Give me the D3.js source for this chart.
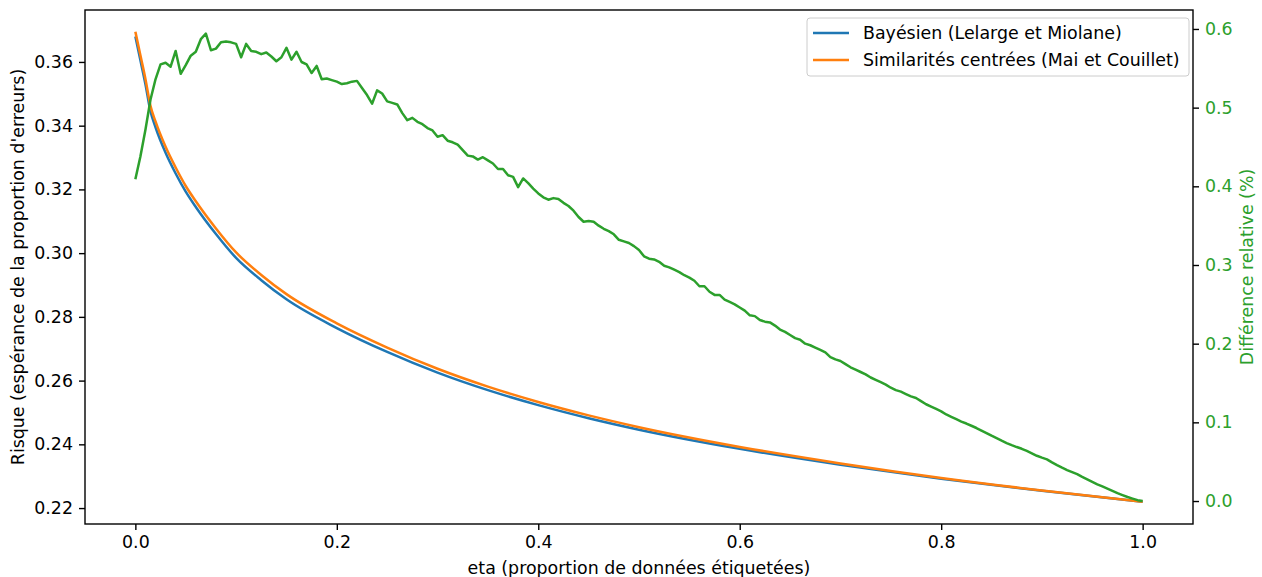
<!DOCTYPE html>
<html>
<head>
<meta charset="utf-8">
<script src="https://cdn.jsdelivr.net/npm/d3@7"></script>
<style>
  body { margin: 0; background: #fff; }
  svg text { font-family: 'DejaVu Sans', sans-serif; }
</style>
</head>
<body>
<div id="chart"></div>
<script>
// eta grid for the two risk curves
const etaRisk = [0, 0.005, 0.01, 0.015, 0.02, 0.03, 0.04, 0.05, 0.06, 0.08, 0.1, 0.125, 0.15,
  0.2, 0.25, 0.3, 0.35, 0.4, 0.45, 0.5, 0.6, 0.7, 0.8, 0.9, 1.0];

const riskBayes = [0.3680, 0.3605, 0.3530, 0.3445, 0.3395, 0.3315, 0.3250, 0.3193, 0.3145, 0.3060,
  0.2985, 0.2915, 0.2855, 0.2765, 0.2690, 0.2625, 0.2570, 0.2523, 0.2482, 0.2446, 0.2386, 0.2336,
  0.2292, 0.2254, 0.2220];

const riskCentered = [0.36950, 0.36208, 0.35467, 0.34626, 0.34132, 0.33335, 0.32686, 0.32107,
  0.31630, 0.30776, 0.30023, 0.29316, 0.28714, 0.27797, 0.27037, 0.26372, 0.25811, 0.25329,
  0.24908, 0.24538, 0.23919, 0.23402, 0.22946, 0.22552, 0.2220];

// relative difference (%), one value every 0.005 of eta
const relDiff = [
  0.409, 0.438, 0.472, 0.510, 0.536, 0.555, 0.557, 0.552, 0.572, 0.543,
  0.554, 0.566, 0.571, 0.587, 0.594, 0.573, 0.575, 0.583, 0.584, 0.583,
  0.581, 0.564, 0.581, 0.572, 0.571, 0.568, 0.570, 0.565, 0.559, 0.564,
  0.576, 0.561, 0.571, 0.558, 0.555, 0.544, 0.553, 0.536, 0.537, 0.535,
  0.533, 0.530, 0.531, 0.533, 0.534, 0.525, 0.516, 0.505, 0.522, 0.518,
  0.508, 0.506, 0.504, 0.493, 0.484, 0.487, 0.482, 0.479, 0.474, 0.471,
  0.463, 0.465, 0.458, 0.456, 0.453, 0.446, 0.439, 0.438, 0.434, 0.437,
  0.433, 0.429, 0.422, 0.422, 0.414, 0.412, 0.399, 0.410, 0.404, 0.397,
  0.391, 0.386, 0.383, 0.385, 0.384, 0.379, 0.375, 0.369, 0.361, 0.355,
  0.356, 0.355, 0.350, 0.346, 0.343, 0.339, 0.332, 0.330, 0.328, 0.324,
  0.319, 0.311, 0.308, 0.307, 0.304, 0.299, 0.297, 0.294, 0.291, 0.287,
  0.284, 0.280, 0.273, 0.273, 0.266, 0.262, 0.262, 0.256, 0.253, 0.250,
  0.246, 0.242, 0.236, 0.235, 0.230, 0.228, 0.227, 0.223, 0.218, 0.215,
  0.211, 0.207, 0.205, 0.200, 0.198, 0.195, 0.192, 0.189, 0.183, 0.180,
  0.178, 0.174, 0.170, 0.167, 0.164, 0.161, 0.157, 0.154, 0.151, 0.148,
  0.144, 0.141, 0.139, 0.136, 0.133, 0.131, 0.127, 0.123, 0.120, 0.117,
  0.114, 0.110, 0.107, 0.104, 0.101, 0.0985, 0.0957, 0.0928, 0.0896, 0.0864,
  0.0830, 0.0799, 0.0767, 0.0737, 0.0710, 0.0686, 0.0664, 0.0637, 0.0607, 0.0575,
  0.0551, 0.0530, 0.0491, 0.0456, 0.0424, 0.0394, 0.0367, 0.0341, 0.0307, 0.0275,
  0.0243, 0.0212, 0.0185, 0.0158, 0.0130, 0.0101, 0.0076, 0.0051, 0.0031, 0.0011,
  0.0
];
const etaStep = 0.005;

const xTicks = [0, 0.2, 0.4, 0.6, 0.8, 1.0];
const yLeftTicks = [0.22, 0.24, 0.26, 0.28, 0.30, 0.32, 0.34, 0.36];
const yRightTicks = [0, 0.1, 0.2, 0.3, 0.4, 0.5, 0.6];

const seriesNames = ['Bayésien (Lelarge et Miolane)', 'Similarités centrées (Mai et Couillet)'];
const colors = ['#1f77b4', '#ff7f0e', '#2ca02c'];

const width = 1262;
const height = 577;
const fontSize = '17.4px';
const margin = { top: 10, right: 69, bottom: 53, left: 85 };
const innerW = width - margin.left - margin.right;
const innerH = height - margin.top - margin.bottom;

const svg = d3.select('#chart').append('svg')
  .attr('width', width)
  .attr('height', height);

const g = svg.append('g').attr('transform', `translate(${margin.left},${margin.top})`);

const x = d3.scaleLinear().domain([-0.05, 1.05]).range([0, innerW]);
const yL = d3.scaleLinear().domain([0.2150, 0.3763]).range([innerH, 0]);
const yR = d3.scaleLinear().domain([-0.0292, 0.6241]).range([innerH, 0]);

const riskData = etaRisk.map((e, i) => ({ eta: e, bayes: riskBayes[i], centered: riskCentered[i] }));
const diffData = relDiff.map((v, i) => ({ eta: i * etaStep, v }));

const lineBayes = d3.line().x(d => x(d.eta)).y(d => yL(d.bayes)).curve(d3.curveMonotoneX);
const lineCentered = d3.line().x(d => x(d.eta)).y(d => yL(d.centered)).curve(d3.curveMonotoneX);
const lineDiff = d3.line().x(d => x(d.eta)).y(d => yR(d.v));

g.append('path').datum(riskData)
  .attr('d', lineBayes)
  .attr('fill', 'none').attr('stroke', colors[0]).attr('stroke-width', 2.5);

g.append('path').datum(riskData)
  .attr('d', lineCentered)
  .attr('fill', 'none').attr('stroke', colors[1]).attr('stroke-width', 2.5);

g.append('path').datum(diffData)
  .attr('d', lineDiff)
  .attr('fill', 'none').attr('stroke', colors[2]).attr('stroke-width', 2.5)
  .attr('stroke-linejoin', 'round');

// axes
const styleAxis = (sel, color) => {
  sel.select('.domain').remove();
  sel.selectAll('.tick line').attr('stroke', '#000').attr('stroke-width', 1.4);
  sel.selectAll('.tick text')
    .attr('fill', color)
    .style('font-size', fontSize);
};

g.append('g')
  .attr('transform', `translate(0,${innerH})`)
  .call(d3.axisBottom(x).tickValues(xTicks).tickFormat(d3.format('.1f')).tickSize(6).tickPadding(6))
  .call(sel => styleAxis(sel, '#000'));

g.append('g')
  .call(d3.axisLeft(yL).tickValues(yLeftTicks).tickFormat(d3.format('.2f')).tickSize(6).tickPadding(6))
  .call(sel => styleAxis(sel, '#000'));

g.append('g')
  .attr('transform', `translate(${innerW},0)`)
  .call(d3.axisRight(yR).tickValues(yRightTicks).tickFormat(d3.format('.1f')).tickSize(6).tickPadding(6))
  .call(sel => styleAxis(sel, colors[2]));

// frame
g.append('rect')
  .attr('width', innerW).attr('height', innerH)
  .attr('fill', 'none').attr('stroke', '#000').attr('stroke-width', 1.4);

// axis titles
svg.append('text')
  .attr('x', margin.left + innerW / 2)
  .attr('y', 574)
  .attr('text-anchor', 'middle')
  .style('font-size', fontSize)
  .text('eta (proportion de données étiquetées)');

svg.append('text')
  .attr('transform', `translate(24,${margin.top + innerH / 2}) rotate(-90)`)
  .attr('text-anchor', 'middle')
  .style('font-size', fontSize)
  .text("Risque (espérance de la proportion d'erreurs)");

svg.append('text')
  .attr('transform', `translate(1253,${margin.top + innerH / 2}) rotate(-90)`)
  .attr('text-anchor', 'middle')
  .attr('fill', colors[2])
  .style('font-size', fontSize)
  .text('Différence relative (%)');

// legend
const legend = svg.append('g').attr('transform', 'translate(807,18)');
legend.append('rect')
  .attr('width', 382).attr('height', 58)
  .attr('rx', 3)
  .attr('fill', '#fff').attr('fill-opacity', 0.8)
  .attr('stroke', '#ccc');

seriesNames.forEach((name, i) => {
  const row = legend.append('g').attr('transform', `translate(0,${15 + i * 27})`);
  row.append('line')
    .attr('x1', 6).attr('x2', 42)
    .attr('stroke', colors[i]).attr('stroke-width', 2.5);
  row.append('text')
    .attr('x', 56).attr('dy', '0.35em')
    .style('font-size', fontSize)
    .text(name);
});
</script>
</body>
</html>
